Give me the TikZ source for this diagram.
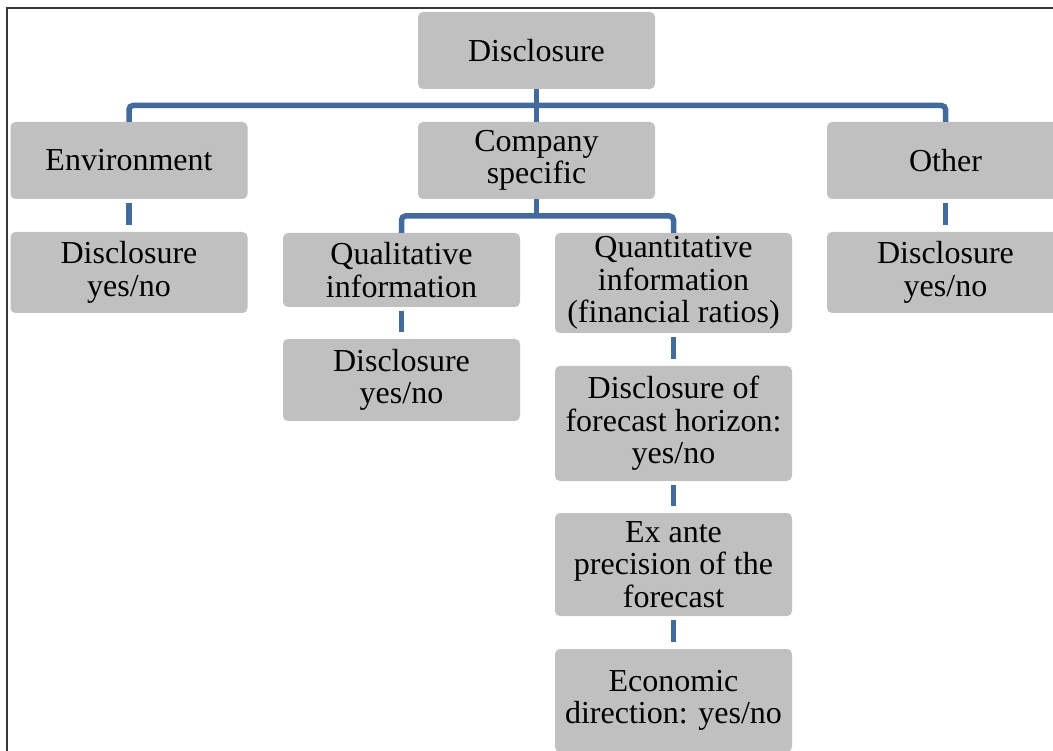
\documentclass[tikz,border=0pt]{standalone}
\usepackage{fontspec}
\setmainfont{Liberation Serif}
\usetikzlibrary{calc}
\definecolor{boxgray}{RGB}{192,192,192}
\definecolor{linkblue}{RGB}{66,106,156}
\definecolor{framegray}{RGB}{55,55,55}
\begin{document}
\begin{tikzpicture}[x=1pt,y=-1pt,
  box/.style={fill=boxgray, rounded corners=5pt, inner sep=0pt, align=center,
    minimum width=237pt, font=\fontsize{32}{32.5}\selectfont},
  link/.style={draw=linkblue, line width=5.5pt, rounded corners=4pt},
  stub/.style={draw=linkblue, line width=5.5pt, shorten <=3.5pt, shorten >=6.5pt}]
\useasboundingbox (0,0) rectangle (1053,751);
\fill[white] (0,0) rectangle (1053,751);
\draw[framegray, line width=2pt, line join=miter] (7,751) -- (7,8) -- (1053,8);

\node[box, minimum height=77pt] (disc) at (536.5,50.5) {Disclosure};
\node[box, minimum height=77pt] (env) at (129,160.5) {Environment};
\node[box, minimum height=77pt] (comp) at (536.5,160.5) {Company\\specific};
\node[box, minimum height=77pt] (other) at (945.5,160.5) {Other};
\node[box, minimum height=81pt] (envd) at (129,272.5) {Disclosure\\yes/no};
\node[box, minimum height=81pt] (otherd) at (945.5,272.5) {Disclosure\\yes/no};
\node[box, minimum height=74pt] (qual) at (401.5,270) {Qualitative\\information};
\node[box, minimum height=82pt] (quald) at (401.5,380) {Disclosure\\yes/no};
\node[box, minimum height=100pt] (quant) at (673.5,283) {Quantitative\\information\\(financial ratios)};
\node[box, minimum height=115pt] (hor) at (673.5,423.5) {Disclosure of\\forecast horizon:\\yes/no};
\node[box, minimum height=103pt] (exante) at (673.5,564.5) {Ex ante\\precision of the\\forecast};
\node[box, minimum height=103pt] (econ) at (673.5,700.5) {Economic\\direction: yes/no};

\coordinate (b1) at ($(disc.south)!0.5!(comp.north)$);
\coordinate (b2) at ($(comp.south)!0.5!(comp.south |- quant.north)$);
\draw[link] (env.north) |- (b1) -| (other.north);
\draw[link] (disc.south) -- (comp.north);
\draw[link] (qual.north) |- (b2) -| (quant.north);
\draw[link] (comp.south) -- (b2);

\draw[stub] (env.south) -- (envd.north);
\draw[stub] (other.south) -- (otherd.north);
\draw[stub] (qual.south) -- (quald.north);
\draw[stub] (quant.south) -- (hor.north);
\draw[stub] (hor.south) -- (exante.north);
\draw[stub] (exante.south) -- (econ.north);
\end{tikzpicture}
\end{document}
